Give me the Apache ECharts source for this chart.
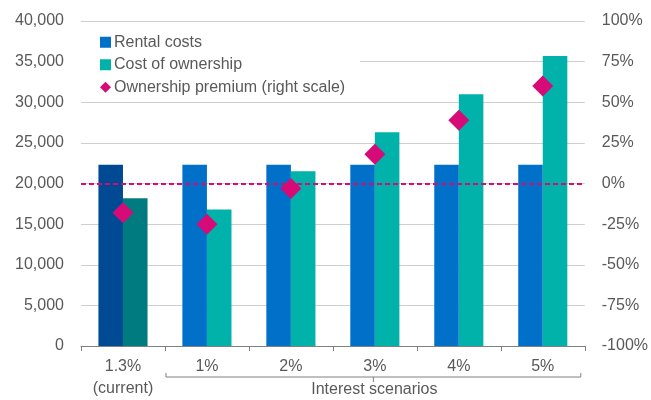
<!DOCTYPE html>
<html>
<head>
<meta charset="utf-8">
<script src="https://cdn.jsdelivr.net/npm/echarts@6/dist/echarts.min.js"></script>
<style>html,body{margin:0;padding:0;background:#fff;}#c{width:651px;height:400px;}</style>
</head>
<body>
<div id="c"></div>
<script>
const categories = ['1.3%\n(current)', '1%', '2%', '3%', '4%', '5%'];
const rentalCosts = [22300, 22300, 22300, 22300, 22300, 22300];
const ownershipCosts = [18200, 16800, 21500, 26300, 31000, 35700];
const ownershipPremium = [-18, -25, -3, 18, 39, 60];
const leftTicks = { min: 0, max: 40000, interval: 5000 };
const rightTicks = { min: -100, max: 100, interval: 25 };

const FONT = 'Liberation Sans';
const TXT = '#595959';
const C_RENT = '#0070c9', C_RENT0 = '#004a94';
const C_OWN = '#00b2aa', C_OWN0 = '#007c80';
const C_PREM = '#d60b78';

const chart = echarts.init(document.getElementById('c'), null, { renderer: 'canvas' });

const option = {
  animation: false,
  backgroundColor: '#fff',
  textStyle: { fontFamily: FONT },
  grid: { left: 81, right: 66, top: 21, bottom: 52, containLabel: false },
  legend: {
    orient: 'vertical',
    left: 81, top: 27,
    padding: [7, 15, 6, 19],
    backgroundColor: '#fff',
    itemWidth: 11, itemHeight: 11,
    itemGap: 6,
    textStyle: { fontFamily: FONT, fontSize: 16, color: TXT, lineHeight: 16.5, padding: [0, 0, 0, -2] },
    data: [
      { name: 'Rental costs', icon: 'rect' },
      { name: 'Cost of ownership', icon: 'rect' },
      { name: 'Ownership premium (right scale)', icon: 'diamond' }
    ],
    z: 3
  },
  xAxis: {
    type: 'category',
    data: categories,
    axisLine: { lineStyle: { color: '#808080', width: 1 } },
    axisTick: { show: true, length: 5, lineStyle: { color: '#808080' } },
    axisLabel: { fontFamily: FONT, fontSize: 16, color: TXT, lineHeight: 22, margin: 10 },
    z: 4
  },
  yAxis: [
    {
      type: 'value', min: leftTicks.min, max: leftTicks.max, interval: leftTicks.interval,
      axisLine: { show: false }, axisTick: { show: false },
      splitLine: { lineStyle: { color: '#cfcfcf', width: 1 } },
      axisLabel: {
        fontFamily: FONT, fontSize: 16, color: TXT, margin: 17,
        formatter: v => v.toLocaleString('en-US')
      }
    },
    {
      type: 'value', min: rightTicks.min, max: rightTicks.max, interval: rightTicks.interval,
      position: 'right',
      axisLine: { show: false }, axisTick: { show: false },
      splitLine: { show: false },
      axisLabel: { fontFamily: FONT, fontSize: 16, color: TXT, margin: 17, formatter: '{value}%' }
    }
  ],
  series: [
    {
      name: 'Rental costs', type: 'bar', yAxisIndex: 0,
      barGap: '0%', barCategoryGap: '41.5%',
      itemStyle: { color: C_RENT },
      data: rentalCosts.map((v, i) => i === 0 ? { value: v, itemStyle: { color: C_RENT0 } } : v),
      z: 2
    },
    {
      name: 'Cost of ownership', type: 'bar', yAxisIndex: 0,
      barGap: '0%', barCategoryGap: '41.5%',
      itemStyle: { color: C_OWN },
      data: ownershipCosts.map((v, i) => i === 0 ? { value: v, itemStyle: { color: C_OWN0 } } : v),
      z: 2
    },
    {
      name: 'Ownership premium (right scale)', type: 'scatter', yAxisIndex: 1,
      symbol: 'diamond', symbolSize: 21,
      itemStyle: { color: C_PREM, opacity: 1 },
      data: ownershipPremium,
      z: 5,
      markLine: {
        silent: true, symbol: 'none', label: { show: false },
        lineStyle: { color: C_PREM, width: 2, type: [5, 3] },
        data: [{ yAxis: 0 }],
        z: 4
      }
    }
  ]
};
chart.setOption(option);

// bracket annotation under the scenario categories
function drawBracket() {
  const c1 = chart.convertToPixel({ xAxisIndex: 0 }, categories[1]);
  const c2 = chart.convertToPixel({ xAxisIndex: 0 }, categories[2]);
  const c5 = chart.convertToPixel({ xAxisIndex: 0 }, categories[5]);
  const step = c2 - c1;
  const base = chart.convertToPixel({ yAxisIndex: 0 }, 0);
  const l = c1 - step / 2 + 1, r = c5 + step / 2 - 4, y = base + 31, m = (l + r) / 2;
  chart.setOption({
    graphic: [
      { type: 'polyline', shape: { points: [[l, y - 4], [l, y], [r, y], [r, y - 4]] }, style: { stroke: '#808080', lineWidth: 1, fill: null }, silent: true },
      { type: 'line', shape: { x1: m, y1: y, x2: m, y2: y + 5 }, style: { stroke: '#808080', lineWidth: 1 }, silent: true },
      { type: 'text', x: m + 1, y: y + 13, style: { text: 'Interest scenarios', font: '16px "' + FONT + '"', fill: TXT, align: 'center', verticalAlign: 'middle' }, silent: true }
    ]
  });
}
drawBracket();
</script>
</body>
</html>
